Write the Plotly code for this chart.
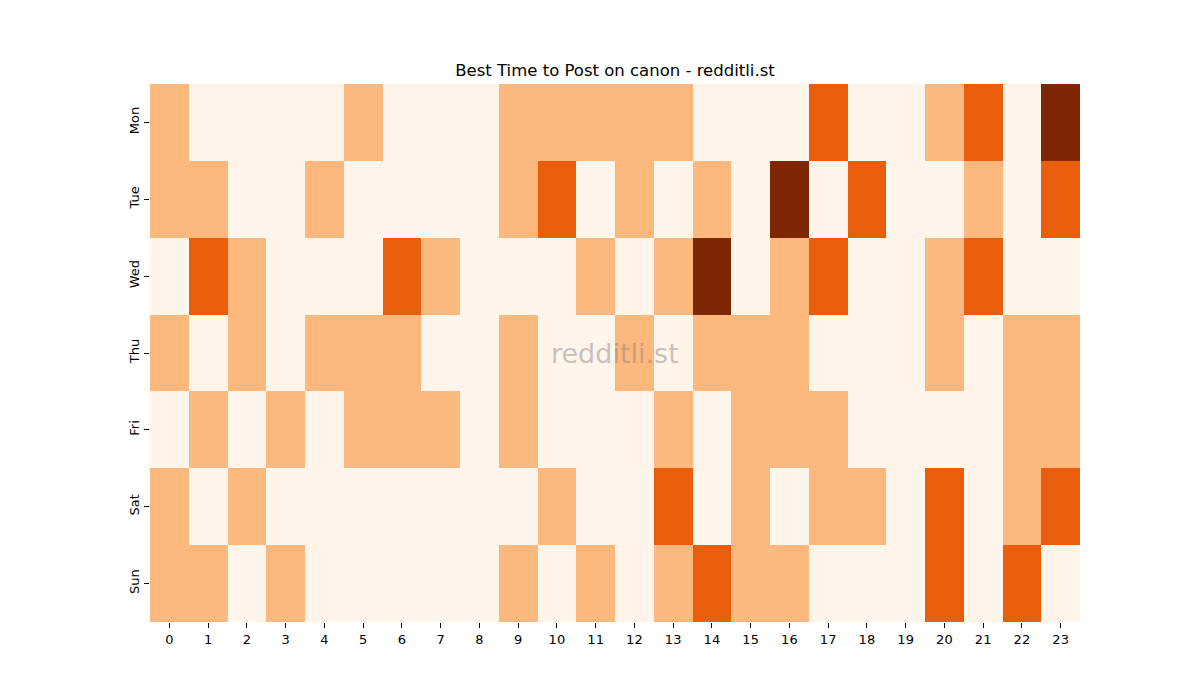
import plotly.graph_objects as go

days = ['Mon', 'Tue', 'Wed', 'Thu', 'Fri', 'Sat', 'Sun']
hours = list(range(24))

# уровни активности по часам (0 - мало, 3 - максимум)
mon = [1, 0, 0, 0, 0, 1, 0, 0, 0, 1, 1, 1, 1, 1, 0, 0, 0, 2, 0, 0, 1, 2, 0, 3]
tue = [1, 1, 0, 0, 1, 0, 0, 0, 0, 1, 2, 0, 1, 0, 1, 0, 3, 0, 2, 0, 0, 1, 0, 2]
wed = [0, 2, 1, 0, 0, 0, 2, 1, 0, 0, 0, 1, 0, 1, 3, 0, 1, 2, 0, 0, 1, 2, 0, 0]
thu = [1, 0, 1, 0, 1, 1, 1, 0, 0, 1, 0, 0, 1, 0, 1, 1, 1, 0, 0, 0, 1, 0, 1, 1]
fri = [0, 1, 0, 1, 0, 1, 1, 1, 0, 1, 0, 0, 0, 1, 0, 1, 1, 1, 0, 0, 0, 0, 1, 1]
sat = [1, 0, 1, 0, 0, 0, 0, 0, 0, 0, 1, 0, 0, 2, 0, 1, 0, 1, 1, 0, 2, 0, 1, 2]
sun = [1, 1, 0, 1, 0, 0, 0, 0, 0, 1, 0, 1, 0, 1, 2, 1, 1, 0, 0, 0, 2, 0, 2, 0]

z = [mon, tue, wed, thu, fri, sat, sun]

oranges = [
    [0.0, '#fff5eb'],
    [1 / 3, '#fdb97d'],
    [2 / 3, '#e95e0d'],
    [1.0, '#7f2704'],
]

fig = go.Figure(go.Heatmap(
    z=z,
    x=hours,
    y=days,
    colorscale=oranges,
    zmin=0,
    zmax=3,
    showscale=False,
    xgap=0,
    ygap=0,
))

fig.add_annotation(
    text='redditli.st',
    x=0.5, y=0.5, xref='paper', yref='paper',
    showarrow=False,
    font=dict(size=27, color='rgba(128,128,128,0.45)', family='DejaVu Sans'),
)

# страница добавляет отступ 8px, поэтому поля сдвинуты
fig.update_layout(
    width=1200,
    height=700,
    margin=dict(l=142, r=128, t=76, b=86),
    paper_bgcolor='white',
    plot_bgcolor='white',
    font=dict(family='DejaVu Sans', size=13, color='black'),
    title=dict(text='Best Time to Post on canon - redditli.st', x=607 / 1200, xanchor='center',
               y=1 - 62 / 700, yanchor='middle', font=dict(size=16.5)),
)

fig.update_xaxes(
    tickmode='array', tickvals=hours, ticktext=[str(h) for h in hours],
    ticks='outside', ticklen=5, tickcolor='black', showgrid=False, zeroline=False,
    showline=False, range=[-0.5, 23.5],
)
fig.update_yaxes(
    autorange='reversed', tickangle=-90,
    ticks='outside', ticklen=5, tickcolor='black', showgrid=False, zeroline=False,
    showline=False,
)

fig.write_html('out.html')
